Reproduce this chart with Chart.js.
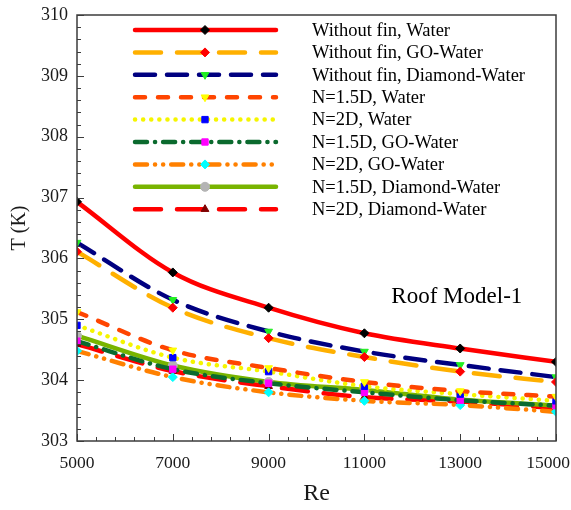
<!DOCTYPE html>
<html>
<head>
<meta charset="utf-8">
<title>Roof Model-1</title>
<script src="https://cdn.jsdelivr.net/npm/chart.js@4.4.1/dist/chart.umd.min.js"></script>
<style>
  body { margin: 0; background: #fff; }
  canvas { display: block; }
</style>
</head>
<body>
<canvas id="roofChart" width="571" height="510"></canvas>
<script>
// Reynolds numbers and temperatures (K)
const reValues = [5000, 7000, 9000, 11000, 13000, 15000];
const withoutFinWater   = [306.93, 305.77, 305.19, 304.77, 304.52, 304.30];
const withoutFinGO      = [306.11, 305.19, 304.69, 304.38, 304.14, 303.97];
const withoutFinDiamond = [306.26, 305.32, 304.80, 304.47, 304.25, 304.05];
const n15Water   = [305.12, 304.49, 304.20, 303.97, 303.82, 303.73];
const n2Water    = [304.90, 304.37, 304.14, 303.90, 303.77, 303.66];
const n15GO      = [304.64, 304.18, 303.95, 303.80, 303.67, 303.58];
const n2GO       = [304.48, 304.05, 303.80, 303.66, 303.59, 303.48];
const n15Diamond = [304.73, 304.24, 303.97, 303.84, 303.68, 303.58];
const n2Diamond  = [304.59, 304.15, 303.90, 303.72, 303.65, 303.54];

const seriesNames = [
    "Without fin, Water",
    "Without fin, GO-Water",
    "Without fin, Diamond-Water",
    "N=1.5D, Water",
    "N=2D, Water",
    "N=1.5D, GO-Water",
    "N=2D, GO-Water",
    "N=1.5D, Diamond-Water",
    "N=2D, Diamond-Water"
];
const yTicks = [303, 304, 305, 306, 307, 308, 309, 310];
const xTicks = [5000, 7000, 9000, 11000, 13000, 15000];

const serif = "'Liberation Serif', 'Times New Roman', serif";

function series(name, values, color, dash, marker, markerColor, rotation) {
    return {
        label: name,
        data: values.map((v, i) => ({ x: reValues[i], y: v })),
        borderColor: color,
        borderWidth: 4.5,
        borderDash: dash,
        borderCapStyle: 'round',
        cubicInterpolationMode: 'monotone',
        pointStyle: marker,
        pointRotation: rotation || 0,
        pointRadius: 4.5,
        pointBackgroundColor: markerColor,
        pointBorderColor: markerColor,
        pointBorderWidth: 1,
        fill: false
    };
}

const datasets = [
    series(seriesNames[0], withoutFinWater, '#ff0000', [], 'rectRot', '#000000'),
    series(seriesNames[1], withoutFinGO, '#ffb000', [26, 16], 'rectRot', '#ff0000'),
    series(seriesNames[2], withoutFinDiamond, '#000080', [20, 12], 'triangle', '#22ee22', 180),
    series(seriesNames[3], n15Water, '#ff4500', [10, 13], 'triangle', '#ffff00', 180),
    series(seriesNames[4], n2Water, '#f5f500', [0.1, 8], 'rect', '#0000ff'),
    series(seriesNames[5], n15GO, '#0b6a2e', [12, 8, 0.1, 8], 'rect', '#ff00ff'),
    series(seriesNames[6], n2GO, '#ff8000', [12, 8, 0.1, 8, 0.1, 8], 'rectRot', '#00ffff'),
    series(seriesNames[7], n15Diamond, '#78b400', [], 'circle', '#b4b4b4'),
    series(seriesNames[8], n2Diamond, '#ff0000', [26, 16], 'triangle', '#800000')
];

// frame, inward ticks, x labels, in-plot legend and the model label
const decorations = {
    id: 'decorations',
    afterDatasetsDraw(chart) {
        const ctx = chart.ctx;
        const area = chart.chartArea;
        const xs = chart.scales.x;
        const ys = chart.scales.y;
        ctx.save();

        ctx.strokeStyle = '#3c3c3c';
        ctx.lineWidth = 1.5;
        ctx.strokeRect(area.left, area.top, area.right - area.left, area.bottom - area.top);

        ctx.lineWidth = 1;
        for (let v = 5000; v <= 15000; v += 400) {
            const px = Math.round(xs.getPixelForValue(v)) + 0.5;
            const len = (v - 5000) % 2000 === 0 ? 7 : 4;
            ctx.beginPath();
            ctx.moveTo(px, area.bottom);
            ctx.lineTo(px, area.bottom - len);
            ctx.stroke();
        }
        for (let k = 0; k <= 35; k++) {
            const v = 303 + k * 0.2;
            const py = Math.round(ys.getPixelForValue(v)) + 0.5;
            const len = k % 5 === 0 ? 7 : 4;
            ctx.beginPath();
            ctx.moveTo(area.left, py);
            ctx.lineTo(area.left + len, py);
            ctx.stroke();
        }

        // x tick labels, kept inside the canvas
        ctx.font = '17.5px ' + serif;
        ctx.fillStyle = '#1a1a1a';
        ctx.textAlign = 'center';
        ctx.textBaseline = 'middle';
        xTicks.forEach(v => {
            const label = String(v);
            const half = ctx.measureText(label).width / 2;
            const px = Math.min(xs.getPixelForValue(v), chart.width - 1 - half);
            ctx.fillText(label, px, area.bottom + 22);
        });

        // legend rows
        ctx.font = '18.5px ' + serif;
        ctx.textAlign = 'left';
        chart.data.datasets.forEach((ds, i) => {
            const y = area.top + 15 + i * 22.4;
            ctx.save();
            ctx.strokeStyle = ds.borderColor;
            ctx.lineWidth = ds.borderWidth;
            ctx.lineCap = 'round';
            ctx.setLineDash(ds.borderDash);
            ctx.beginPath();
            ctx.moveTo(135, y);
            ctx.lineTo(276, y);
            ctx.stroke();
            ctx.restore();
            ctx.fillStyle = ds.pointBackgroundColor;
            ctx.strokeStyle = ds.pointBorderColor;
            ctx.lineWidth = 1;
            Chart.helpers.drawPoint(ctx, {
                pointStyle: ds.pointStyle,
                rotation: ds.pointRotation,
                radius: ds.pointRadius,
                borderWidth: 1
            }, 205, y);
            ctx.fillStyle = '#000';
            ctx.fillText(ds.label, 312, y + 1);
        });

        ctx.font = '23px ' + serif;
        ctx.textAlign = 'center';
        ctx.fillText('Roof Model-1', xs.getPixelForValue(12930), ys.getPixelForValue(305.36));
        ctx.restore();
    }
};

new Chart(document.getElementById('roofChart'), {
    type: 'line',
    data: { datasets },
    options: {
        responsive: false,
        devicePixelRatio: 1,
        animation: false,
        layout: { padding: { top: 15, right: 15, left: 0, bottom: 0 } },
        plugins: { legend: { display: false }, tooltip: { enabled: false } },
        scales: {
            x: {
                type: 'linear',
                min: 5000,
                max: 15000,
                afterBuildTicks: s => { s.ticks = xTicks.map(v => ({ value: v })); },
                afterFit: s => { s.height = 69; s.paddingLeft = 0; s.paddingRight = 0; },
                grid: { display: false, drawTicks: false },
                border: { display: false },
                ticks: { display: false },
                title: { display: true, text: 'Re', color: '#1a1a1a', font: { family: serif, size: 24 }, padding: { top: 0, bottom: 2 } }
            },
            y: {
                min: 303,
                max: 310,
                afterBuildTicks: s => { s.ticks = yTicks.map(v => ({ value: v })); },
                afterFit: s => { s.width = 77; s.paddingTop = 0; s.paddingBottom = 0; },
                grid: { display: false, drawTicks: false },
                border: { display: false },
                ticks: { color: '#1a1a1a', font: { family: serif, size: 18 }, padding: 9, callback: v => String(v) },
                title: { display: true, text: 'T (K)', color: '#1a1a1a', font: { family: serif, size: 20 }, padding: { top: 8, bottom: 0 } }
            }
        }
    },
    plugins: [decorations]
});
</script>
</body>
</html>
